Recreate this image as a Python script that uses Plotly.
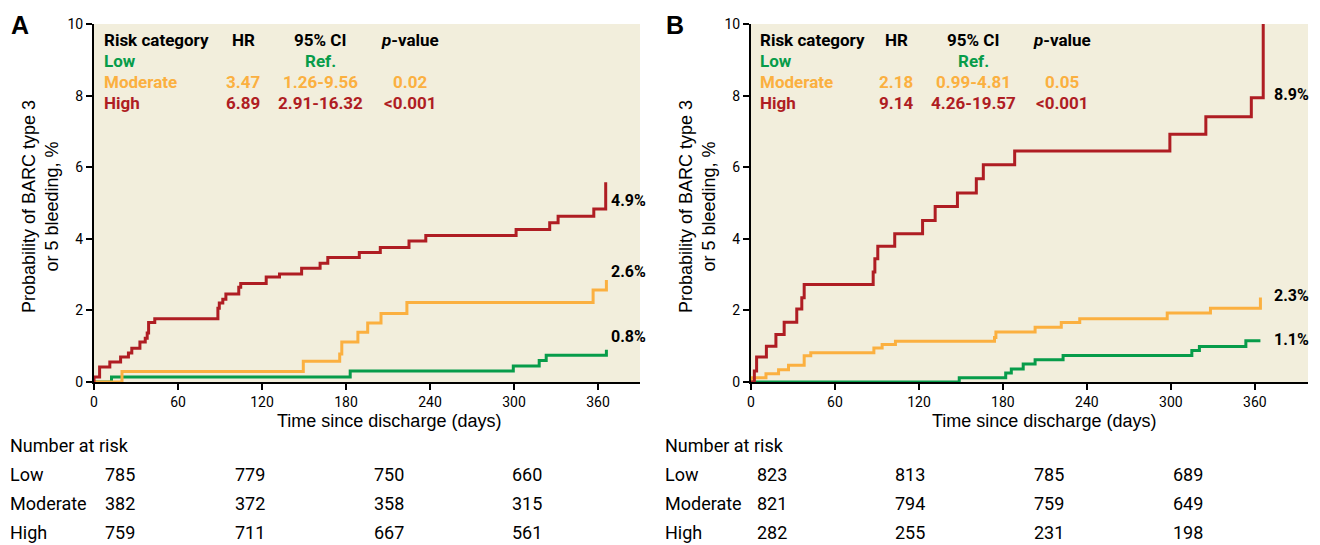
import plotly.graph_objects as go

W, H = 1320, 545
OFF = 8  # page body margin offset in the screenshot

# ---------------- data ----------------
xticks = [0, 60, 120, 180, 240, 300, 360]
yticks = [0, 2, 4, 6, 8, 10]

# Panel A
a_high_days = [0, 0, 4, 11.3, 19, 24.6, 27, 32.8, 36.6, 38, 39, 43.4, 88.5, 89.5, 92, 94.2,
               103.4, 104.8, 123, 132.5, 148.3, 161.5, 167, 189.5, 204.5, 225, 237, 301.5,
               325.5, 331.5, 357, 365.5]
a_high_vals = [0, 0.14, 0.42, 0.56, 0.70, 0.81, 0.94, 1.12, 1.22, 1.37, 1.66, 1.77, 2.06, 2.21,
               2.31, 2.46, 2.65, 2.75, 2.93, 3.02, 3.18, 3.32, 3.48, 3.62, 3.76, 3.94, 4.09,
               4.26, 4.45, 4.63, 4.83, 5.58]
a_mod_days = [0, 20, 149.5, 175.5, 177, 188.5, 195.5, 205, 223.5, 356.5, 366]
a_mod_vals = [0, 0.29, 0.58, 0.78, 1.12, 1.39, 1.65, 1.91, 2.22, 2.57, 2.85]
a_low_days = [0, 12.5, 183, 299.5, 318, 323, 366]
a_low_vals = [0, 0.14, 0.31, 0.45, 0.60, 0.75, 0.90]

# Panel B
b_high_days = [0, 2.4, 4, 11, 17.8, 23.7, 32.7, 36.3, 38, 87.3, 88.5, 90.6, 102.7, 122.6,
               131.6, 147.5, 161, 166, 188.4, 299.3, 325, 357.5, 366]
b_high_vals = [0, 0.31, 0.70, 1.0, 1.33, 1.67, 2.04, 2.35, 2.72, 3.07, 3.44, 3.79, 4.14, 4.51,
               4.90, 5.28, 5.68, 6.07, 6.45, 6.92, 7.41, 7.94, 10]
b_mod_days = [0, 0, 10.7, 19.7, 26.8, 38, 42.7, 87.8, 93.7, 103.2, 174, 175, 203, 221.7,
              234.9, 297.4, 328.3, 364]
b_mod_vals = [0, 0.12, 0.23, 0.34, 0.47, 0.73, 0.82, 0.95, 1.05, 1.14, 1.24, 1.40, 1.53, 1.66,
              1.77, 1.93, 2.06, 2.36]
b_low_days = [0, 148.8, 182, 186, 194.5, 203, 223, 315, 320.4, 353.6, 364]
b_low_vals = [0, 0.12, 0.25, 0.36, 0.50, 0.62, 0.74, 0.88, 0.99, 1.15, 1.15]

categories = ["Low", "Moderate", "High"]
a_hr = ["", "3.47", "6.89"]
a_ci = ["Ref.", "1.26-9.56", "2.91-16.32"]
a_p = ["", "0.02", "<0.001"]
b_hr = ["", "2.18", "9.14"]
b_ci = ["Ref.", "0.99-4.81", "4.26-19.57"]
b_p = ["", "0.05", "<0.001"]

a_end_labels = ["0.8%", "2.6%", "4.9%"]
b_end_labels = ["1.1%", "2.3%", "8.9%"]

a_risk = {"Low": [785, 779, 750, 660], "Moderate": [382, 372, 358, 315], "High": [759, 711, 667, 561]}
b_risk = {"Low": [823, 813, 785, 689], "Moderate": [821, 794, 759, 649], "High": [282, 255, 231, 198]}

# ---------------- style ----------------
GREEN = "#079C4A"
ORANGE = "#FBB040"
RED = "#AF1D23"
COLORS = {"Low": GREEN, "Moderate": ORANGE, "High": RED}
BG = "#F2EEDC"
NARROW = "Roboto, Liberation Sans, sans-serif"
SANS = "Liberation Sans, Arial, sans-serif"


def px(x):
    return (x - OFF) / W


def py(y):
    return 1 - (y - OFF) / H


fig = go.Figure()

series = [
    ("x", "y", a_low_days, a_low_vals, "Low"),
    ("x", "y", a_mod_days, a_mod_vals, "Moderate"),
    ("x", "y", a_high_days, a_high_vals, "High"),
    ("x2", "y2", b_low_days, b_low_vals, "Low"),
    ("x2", "y2", b_mod_days, b_mod_vals, "Moderate"),
    ("x2", "y2", b_high_days, b_high_vals, "High"),
]
for xa, ya, d, v, name in series:
    fig.add_trace(go.Scatter(x=d, y=v, mode="lines", line=dict(color=COLORS[name], width=3, shape="hv"),
                             xaxis=xa, yaxis=ya, showlegend=False, cliponaxis=True, hoverinfo="skip"))

ann = []


def text(x, y, s, size=17, color="black", family=NARROW, xanchor="left", bold=False, xref="paper", yref="paper", **kw):
    if bold:
        s = "<b>" + s + "</b>"
    ann.append(dict(x=x, y=y, xref=xref, yref=yref, text=s, showarrow=False, xanchor=xanchor,
                    yanchor="middle", font=dict(size=size, color=color, family=family), **kw))


# panel letters
text(px(9), py(25), "A", size=25, bold=True, family=SANS)
text(px(664), py(25), "B", size=25, bold=True, family=SANS)

# legend tables inside plots
for (x0, xhr, xci, xp, hr, ci, pv) in [(104, 243, 320, 410, a_hr, a_ci, a_p),
                                        (760, 896, 973, 1062, b_hr, b_ci, b_p)]:
    text(px(x0 - 2), py(40), "Risk category", bold=True)
    text(px(xhr), py(40), "HR", bold=True, xanchor="center")
    text(px(xci), py(40), "95% CI", bold=True, xanchor="center")
    text(px(xp), py(40), "<i>p</i>-value", bold=True, xanchor="center")
    for i, (cat, yy) in enumerate(zip(categories, [61, 82, 103])):
        c = COLORS[cat]
        text(px(x0 - 2), py(yy), cat, bold=True, color=c)
        if hr[i]:
            text(px(xhr), py(yy), hr[i], bold=True, color=c, xanchor="center")
        text(px(xci), py(yy), ci[i], bold=True, color=c, xanchor="center")
        if pv[i]:
            text(px(xp), py(yy), pv[i], bold=True, color=c, xanchor="center")

# end-of-curve labels (positions in data units)
for lbl, yv in zip(a_end_labels, [1.26, 3.08, 5.07]):
    text(368, yv, lbl, size=16, bold=True, xref="x", yref="y")
for lbl, yv in zip(b_end_labels, [1.2, 2.43, 8.04]):
    text(372, yv, lbl, size=16, bold=True, xref="x2", yref="y2")

# axis titles
for cx in [389, 1044]:
    text(px(cx), py(421), "Time since discharge (days)", size=18, family=SANS, xanchor="center")
for cx in [40, 697]:
    text(px(cx), py(207), "Probability of BARC type 3<br>or 5 bleeding, %", size=18, family=SANS,
         xanchor="center", textangle=-90)

# number at risk tables
for x0, cols, risk in [(8, [103, 233, 372, 510], a_risk), (663, [755, 893, 1032, 1171], b_risk)]:
    text(px(x0), py(445), "Number at risk", size=18)
    for cat, yy in zip(categories, [474, 503, 532]):
        text(px(x0), py(yy), cat, size=18)
        for cx, val in zip(cols, risk[cat]):
            text(px(cx), py(yy), str(val), size=18)

fig.update_layout(annotations=ann)

axis_common = dict(showline=True, linecolor="black", linewidth=2, ticks="outside", ticklen=6,
                   tickwidth=1.5, tickcolor="black", showgrid=False, zeroline=False, automargin=False,
                   tickfont=dict(family=NARROW, size=14, color="black"))
ydom = [py(382), py(24)]
fig.update_layout(
    width=W, height=H, margin=dict(l=0, r=0, t=0, b=0),
    paper_bgcolor="white", plot_bgcolor=BG,
    xaxis=dict(domain=[px(94), px(640)], range=[0, 390], tickvals=xticks, anchor="y", **axis_common),
    yaxis=dict(domain=ydom, range=[0, 10], tickvals=yticks, anchor="x", **axis_common),
    xaxis2=dict(domain=[px(751), px(1308)], range=[0, 398], tickvals=xticks, anchor="y2", **axis_common),
    yaxis2=dict(domain=ydom, range=[0, 10], tickvals=yticks, anchor="x2", **axis_common),
)

fig.write_html("out.html")
